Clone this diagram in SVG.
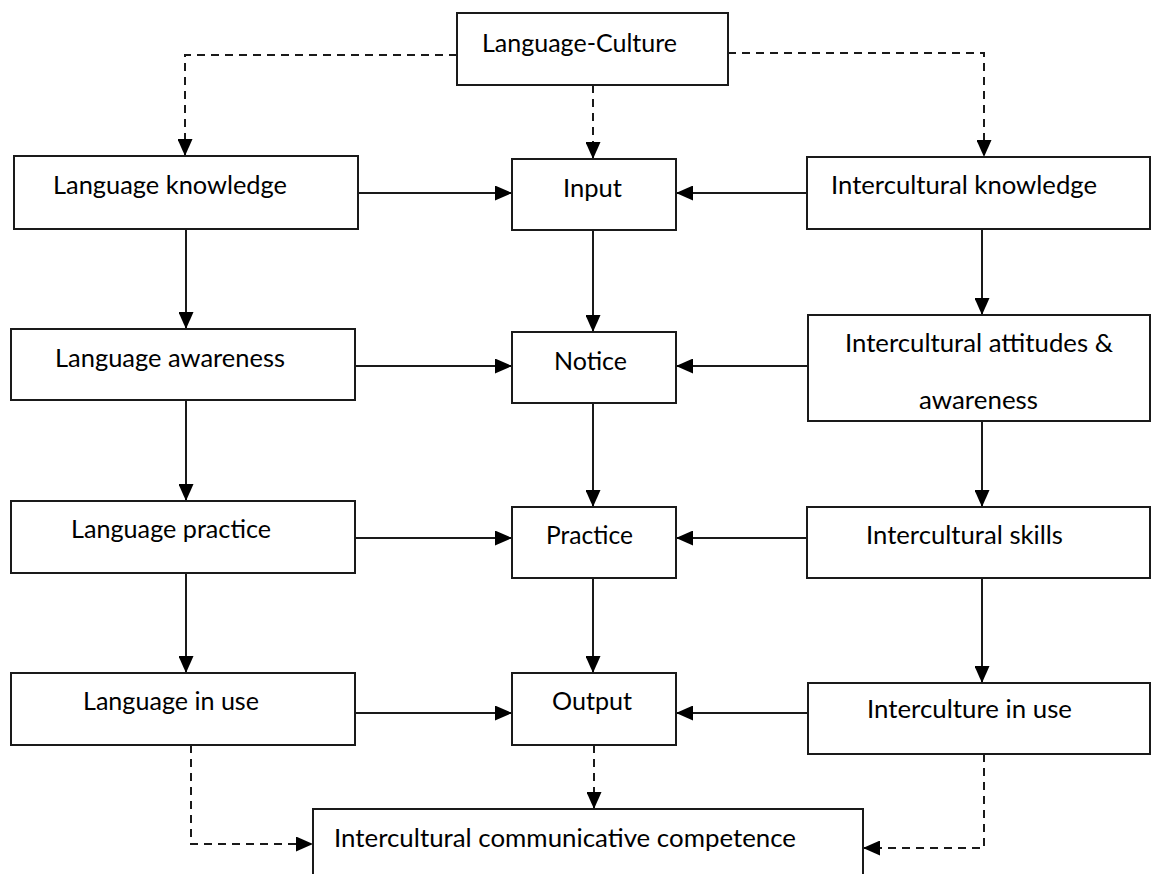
<svg xmlns="http://www.w3.org/2000/svg" width="1151" height="874" viewBox="0 0 1151 874">
<style>
.box{fill:#fff;stroke:#1a1a1a;stroke-width:2}
.t{font-family:Lato,"Open Sans","Liberation Sans",sans-serif;font-size:25px;fill:#000}
.c{fill:none;stroke:#1a1a1a;stroke-width:2;marker-end:url(#ah)}
.d{stroke-dasharray:8 6}
</style>
<defs>
<marker id="ah" viewBox="0 0 17 15" refX="17" refY="7.5" markerWidth="17" markerHeight="15" markerUnits="userSpaceOnUse" orient="auto">
<path d="M0,0 L17,7.5 L0,15 z" fill="#000"/>
</marker>
</defs>
<rect width="1151" height="874" fill="#fff"/>
<g id="connectors">
<path class="c" d="M358,193 H512"/>
<path class="c" d="M807,193 H676"/>
<path class="c" d="M186,229 V329"/>
<path class="c" d="M593,230 V332"/>
<path class="c" d="M982,229 V315"/>
<path class="c" d="M355,366 H512"/>
<path class="c" d="M808,366 H676"/>
<path class="c" d="M186,400 V501"/>
<path class="c" d="M593,403 V507"/>
<path class="c" d="M982,421 V507"/>
<path class="c" d="M355,538 H512"/>
<path class="c" d="M807,538 H676"/>
<path class="c" d="M186,573 V673"/>
<path class="c" d="M593,578 V673"/>
<path class="c" d="M982,578 V683"/>
<path class="c" d="M355,713 H512"/>
<path class="c" d="M808,713 H676"/>
<path class="c d" d="M457,55 H185 V156"/>
<path class="c d" d="M593,85 V159"/>
<path class="c d" d="M728,53 H984 V157"/>
<path class="c d" d="M191,745 V844 H313"/>
<path class="c d" d="M594,745 V809"/>
<path class="c d" d="M984,754 V848 H863"/>
</g>
<g id="language-culture"><rect class="box" x="457" y="13" width="271" height="72"/><text class="t" x="482" y="52" textLength="195" lengthAdjust="spacingAndGlyphs">Language-Culture</text></g>
<g id="language-knowledge"><rect class="box" x="14" y="156" width="344" height="73"/><text class="t" x="53" y="194" textLength="234" lengthAdjust="spacingAndGlyphs">Language knowledge</text></g>
<g id="input"><rect class="box" x="512" y="159" width="164" height="71"/><text class="t" x="563" y="197" textLength="59" lengthAdjust="spacingAndGlyphs">Input</text></g>
<g id="intercultural-knowledge"><rect class="box" x="807" y="157" width="343" height="72"/><text class="t" x="831" y="194" textLength="266" lengthAdjust="spacingAndGlyphs">Intercultural knowledge</text></g>
<g id="language-awareness"><rect class="box" x="11" y="329" width="344" height="71"/><text class="t" x="55" y="367" textLength="230" lengthAdjust="spacingAndGlyphs">Language awareness</text></g>
<g id="notice"><rect class="box" x="512" y="332" width="164" height="71"/><text class="t" x="554" y="370" textLength="73" lengthAdjust="spacingAndGlyphs">Notice</text></g>
<g id="intercultural-attitudes"><rect class="box" x="808" y="315" width="342" height="106"/><text class="t" x="845" y="352" textLength="268" lengthAdjust="spacingAndGlyphs">Intercultural attitudes &amp;</text><text class="t" x="919" y="409" textLength="119" lengthAdjust="spacingAndGlyphs">awareness</text></g>
<g id="language-practice"><rect class="box" x="11" y="501" width="344" height="72"/><text class="t" x="71" y="538" textLength="200" lengthAdjust="spacingAndGlyphs">Language practice</text></g>
<g id="practice"><rect class="box" x="512" y="507" width="164" height="71"/><text class="t" x="546" y="544" textLength="87" lengthAdjust="spacingAndGlyphs">Practice</text></g>
<g id="intercultural-skills"><rect class="box" x="807" y="507" width="343" height="71"/><text class="t" x="866" y="544" textLength="197" lengthAdjust="spacingAndGlyphs">Intercultural skills</text></g>
<g id="language-in-use"><rect class="box" x="11" y="673" width="344" height="72"/><text class="t" x="83" y="710" textLength="176" lengthAdjust="spacingAndGlyphs">Language in use</text></g>
<g id="output"><rect class="box" x="512" y="673" width="164" height="72"/><text class="t" x="552" y="710" textLength="80" lengthAdjust="spacingAndGlyphs">Output</text></g>
<g id="interculture-in-use"><rect class="box" x="808" y="683" width="342" height="71"/><text class="t" x="867" y="718" textLength="205" lengthAdjust="spacingAndGlyphs">Interculture in use</text></g>
<g id="icc"><rect class="box" x="313" y="809" width="550" height="90"/><text class="t" x="334" y="847" textLength="462" lengthAdjust="spacingAndGlyphs">Intercultural communicative competence</text></g>
</svg>
